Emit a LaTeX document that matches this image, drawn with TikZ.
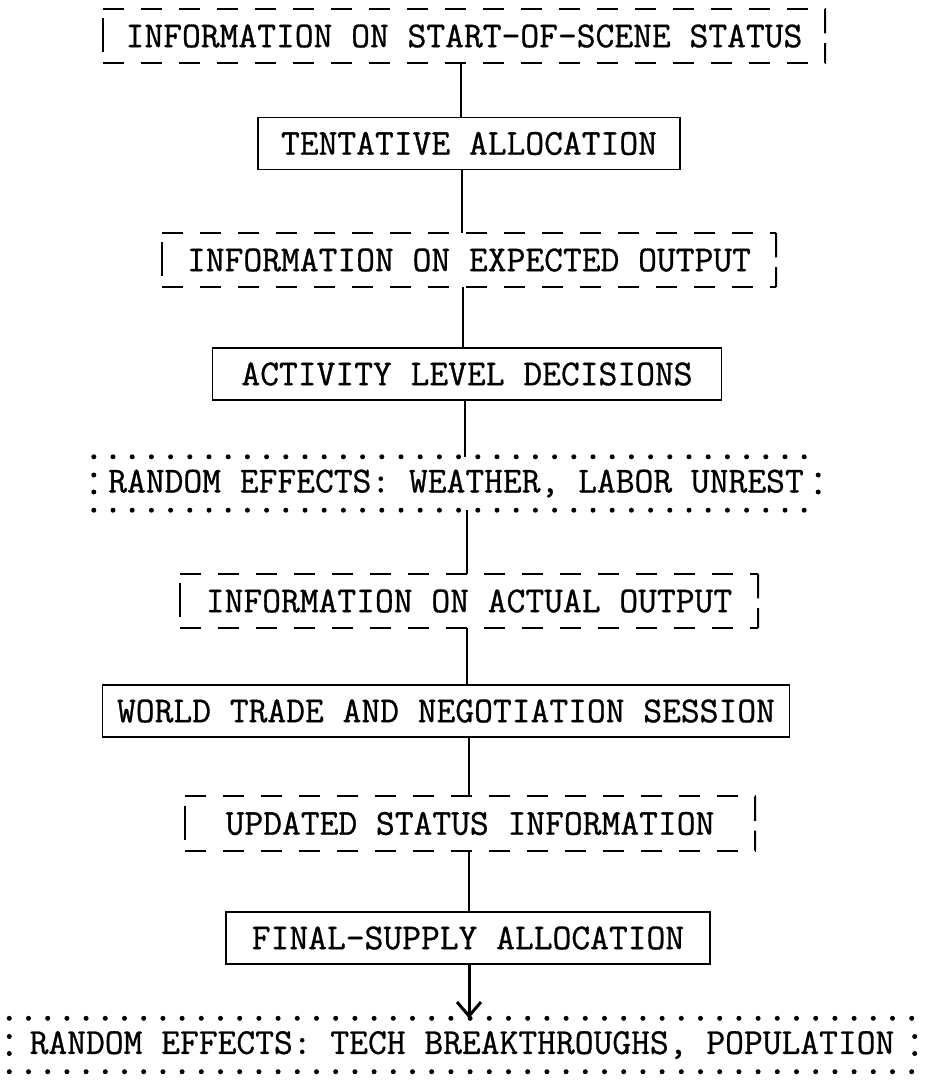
\documentclass[tikz,border=0pt]{standalone}
\usepackage{fontspec}
\setmonofont{Latin Modern Mono}[FakeBold=0.8]
\usetikzlibrary{arrows.meta,calc}
\begin{document}
\begin{tikzpicture}[x=1pt,y=-1pt,
  every node/.style={font=\ttfamily\bfseries\fontsize{36.5}{40}\selectfont, inner sep=0pt, align=center},
  solidbox/.style={draw, line width=1.8pt, minimum height=52pt},
  dashbox/.style={minimum height=54pt},
  dotbox/.style={minimum height=53pt},
  conn/.style={line width=1.6pt},
  dashline/.style={line width=2pt, dash pattern=on 21pt off 17pt},
  dotline/.style={line width=5pt, line cap=round, dash pattern=on 0pt off 19.2pt},
  sideline/.style={line width=2pt}
]
\useasboundingbox (0,0) rectangle (934,1080);

\node[dashbox, minimum width=722pt] (n1) at (464,36) {INFORMATION ON START-OF-SCENE STATUS};
\node[solidbox, minimum width=422pt] (n2) at (469,143.5) {TENTATIVE ALLOCATION};
\node[dashbox, minimum width=614pt] (n3) at (469,260) {INFORMATION ON EXPECTED OUTPUT};
\node[solidbox, minimum width=509pt] (n4) at (467,374) {ACTIVITY LEVEL DECISIONS};
\node[dotbox, minimum width=724pt] (n5) at (456,483.5) {RANDOM EFFECTS: WEATHER, LABOR UNREST};
\node[dashbox, minimum width=578pt] (n6) at (469,601) {INFORMATION ON ACTUAL OUTPUT};
\node[solidbox, minimum width=687pt] (n7) at (446,711) {WORLD TRADE AND NEGOTIATION SESSION};
\node[dashbox, minimum width=570pt] (n8) at (470,823.5) {UPDATED STATUS INFORMATION};
\node[solidbox, minimum width=484pt] (n9) at (468,938) {FINAL-SUPPLY ALLOCATION};
\node[dotbox, minimum width=905pt] (n10) at (462,1045) {RANDOM EFFECTS: TECH BREAKTHROUGHS, POPULATION};

% dashed frames
\foreach \n in {n1,n3,n6,n8}{
  \draw[dashline] (\n.north west) -- (\n.north east);
  \draw[dashline] (\n.south west) -- (\n.south east);
  \draw[sideline] ($(\n.north west)!0.17!(\n.south west)$) -- ($(\n.north west)!0.80!(\n.south west)$);
  \draw[sideline] (\n.north east) -- ($(\n.north east)!0.45!(\n.south east)$);
  \draw[sideline] ($(\n.north east)!0.63!(\n.south east)$) -- (\n.south east);
}
% dotted frames
\foreach \n in {n5,n10}{
  \draw[dotline] (\n.north west) -- (\n.north east);
  \draw[dotline] (\n.south west) -- (\n.south east);
  \fill ([yshift=8.5pt]\n.west) circle (2.5pt);
  \fill ([yshift=-8.5pt]\n.west) circle (2.5pt);
  \fill ([yshift=8.5pt]\n.east) circle (2.5pt);
  \fill ([yshift=-8.5pt]\n.east) circle (2.5pt);
}

% connectors
\coordinate (c1) at (461,0);
\coordinate (c2) at (462,0);
\coordinate (c3) at (463,0);
\coordinate (c4) at (465,0);
\coordinate (c5) at (467,0);
\coordinate (c6) at (467,0);
\coordinate (c7) at (469,0);
\coordinate (c8) at (469,0);
\coordinate (c9) at (469,0);
\draw[conn] (n1.south -| c1) -- (n2.north -| c1);
\draw[conn] (n2.south -| c2) -- (n3.north -| c2);
\draw[conn] (n3.south -| c3) -- (n4.north -| c3);
\draw[conn] (n4.south -| c4) -- (n5.north -| c4);
\draw[conn] (n5.south -| c5) -- (n6.north -| c5);
\draw[conn] (n6.south -| c6) -- (n7.north -| c6);
\draw[conn, line width=2.4pt] (n7.south -| c7) -- (n8.north -| c7);
\draw[conn] (n8.south -| c8) -- (n9.north -| c8);
\draw[line width=3pt, -{Straight Barb[length=14pt,width=24pt,line width=3pt]}] (n9.south -| c9) -- (n10.north -| c9);
\end{tikzpicture}
\end{document}
